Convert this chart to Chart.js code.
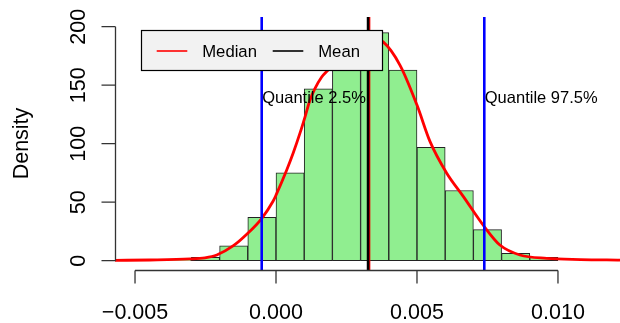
<!DOCTYPE html>
<html>
<head>
<meta charset="utf-8">
<script src="https://cdn.jsdelivr.net/npm/chart.js@4/dist/chart.umd.min.js"></script>
<style>
  html, body { margin:0; padding:0; background:#fff; }
  #wrap { width:620px; height:323px; }
</style>
</head>
<body>
<div id="wrap"><canvas id="c" width="620" height="323"></canvas></div>
<script>
// ---- data ----
// histogram: bins of width 0.001, density per bin
const binWidth   = 0.001;
const binStart   = [-0.004, -0.003, -0.002, -0.001, 0.000, 0.001, 0.002, 0.003, 0.004, 0.005, 0.006, 0.007, 0.008, 0.009];
const binDensity = [0.5, 2.9, 12.8, 37, 75, 147, 175, 195, 163, 97, 60, 26.5, 6.3, 2.9];

// kernel density curve (red)
const kdeX = [-0.00571, -0.00447, -0.00305, -0.00252, -0.0021, -0.00151, -0.0010, -0.00051, -0.0001, 0.0,
              0.00038, 0.00061, 0.00085, 0.00103, 0.0012, 0.00138, 0.00162, 0.00185, 0.0024, 0.0030,
              0.0034, 0.0038, 0.0044, 0.0050, 0.00546, 0.00605, 0.00664, 0.00739, 0.00794, 0.00865,
              0.0096, 0.0108, 0.0122];
const kdeY = [0.3, 0.6, 1.5, 2.5, 4.9, 12.8, 23.4, 36, 51, 56,
              77.5, 92, 109, 123, 137, 147, 157, 163, 176, 187,
              190, 187, 167, 133, 102, 75, 55, 29, 13.4, 4.9,
              2, 1, 0.5];

// reference lines
const quantiles      = [-0.000507, 0.007387];
const quantileLabels = ['Quantile 2.5%', 'Quantile 97.5%'];
const quantileLabelY = 140;
const medianVal = 0.0033;
const meanVal   = 0.003265;

// axes
const xTicks      = [-0.005, 0, 0.005, 0.010];
const xTickLabels = ['\u22120.005', '0.000', '0.005', '0.010'];
const yTicks      = [0, 50, 100, 150, 200];
const xLim = [-0.00571, 0.0122];
const yLim = [-7.95, 208.3];

const legendItems = [
  { text:'Median', color:'#ff0000' },
  { text:'Mean',   color:'#000000' }
];

const FONT = '"Liberation Sans", Arial, Helvetica, sans-serif';

// vertical line as a two-point line dataset
function vline(xv, color, order){
  return {
    type:'line', data:[{x:xv, y:yLim[0]}, {x:xv, y:yLim[1]}],
    borderColor:color, borderWidth:2.6, pointRadius:0, order
  };
}

// R-like axes, texts and legend
const rDecor = {
  id:'rDecor',
  afterDatasetsDraw(chart){
    const { ctx, scales:{x, y} } = chart;
    ctx.save();
    // quantile labels
    ctx.fillStyle = '#000';
    ctx.font = '16.5px ' + FONT;
    ctx.textAlign = 'left';
    ctx.textBaseline = 'alphabetic';
    quantiles.forEach((q, i) => {
      ctx.fillText(quantileLabels[i], x.getPixelForValue(q) + 0.5, y.getPixelForValue(quantileLabelY) + 5.9);
    });

    // legend box
    const L = { x:141.5, y:30.5, w:241, h:40 };
    ctx.fillStyle = '#f2f2f2';
    ctx.fillRect(L.x, L.y, L.w, L.h);
    ctx.strokeStyle = '#000'; ctx.lineWidth = 1.2;
    ctx.strokeRect(L.x, L.y, L.w, L.h);
    const slots = [156.7, 272.7];
    legendItems.forEach((it, i) => {
      const sx = slots[i], cy = 51;
      ctx.strokeStyle = it.color; ctx.lineWidth = 1.6;
      ctx.beginPath(); ctx.moveTo(sx, cy); ctx.lineTo(sx + 30.6, cy); ctx.stroke();
      ctx.fillStyle = '#000';
      ctx.font = '16.7px ' + FONT;
      ctx.fillText(it.text, sx + 45.5, 57);
    });
    ctx.restore();
  },
  afterDraw(chart){
    const { ctx, scales:{x, y}, chartArea:a } = chart;
    ctx.save();
    ctx.strokeStyle = '#333'; ctx.lineWidth = 1.3; ctx.fillStyle = '#000';
    // x axis
    const xb = a.bottom + 0.5;
    ctx.beginPath();
    ctx.moveTo(x.getPixelForValue(xTicks[0]), xb);
    ctx.lineTo(x.getPixelForValue(xTicks[xTicks.length - 1]), xb);
    xTicks.forEach(v => { const p = x.getPixelForValue(v); ctx.moveTo(p, xb); ctx.lineTo(p, xb + 13); });
    // y axis
    const yl = a.left + 0.5;
    ctx.moveTo(yl, y.getPixelForValue(yTicks[0]));
    ctx.lineTo(yl, y.getPixelForValue(yTicks[yTicks.length - 1]));
    yTicks.forEach(v => { const p = y.getPixelForValue(v); ctx.moveTo(yl, p); ctx.lineTo(yl - 14, p); });
    ctx.stroke();

    ctx.font = '21.5px ' + FONT;
    ctx.textAlign = 'center';
    ctx.textBaseline = 'alphabetic';
    xTicks.forEach((v, i) => ctx.fillText(xTickLabels[i], x.getPixelForValue(v), 319));
    yTicks.forEach(v => {
      ctx.save();
      ctx.translate(84.5, y.getPixelForValue(v));
      ctx.rotate(-Math.PI / 2);
      ctx.fillText(String(v), 0, 0);
      ctx.restore();
    });
    // axis title
    ctx.save();
    ctx.translate(27.5, 143.5);
    ctx.rotate(-Math.PI / 2);
    ctx.fillText('Density', 0, 0);
    ctx.restore();
    ctx.restore();
  }
};

new Chart(document.getElementById('c'), {
  type:'bar',
  data:{
    datasets:[
      {
        type:'line', label:'Quantiles', data:[{x:quantiles[0], y:yLim[0]}, {x:quantiles[0], y:yLim[1]}],
        borderColor:'#0000ff', borderWidth:2.6, pointRadius:0, order:1
      },
      vline(quantiles[1], '#0000ff', 1),
      vline(meanVal, '#000000', 2),
      vline(medianVal, '#ff0000', 3),
      {
        type:'line', label:'Density',
        data:kdeX.map((v, i) => ({x:v, y:kdeY[i]})),
        borderColor:'#ff0000', borderWidth:2.8, pointRadius:0,
        cubicInterpolationMode:'monotone', order:4
      },
      {
        type:'bar', label:'Histogram',
        data:binStart.map((s, i) => ({x:s + binWidth / 2, y:binDensity[i]})),
        backgroundColor:'#90ee90', borderColor:'#222', borderWidth:1,
        borderSkipped:false, categoryPercentage:1, barPercentage:1, order:5
      }
    ]
  },
  options:{
    responsive:false, animation:false, devicePixelRatio:1,
    layout:{ padding:{ left:115, right:0, top:17, bottom:53 } },
    plugins:{ legend:{ display:false }, tooltip:{ enabled:false } },
    scales:{
      x:{ type:'linear', offset:false, min:xLim[0], max:xLim[1], display:false,
          afterBuildTicks:s => { s.ticks = xTicks.map(v => ({ value:v })); } },
      y:{ type:'linear', min:yLim[0], max:yLim[1], display:false }
    }
  },
  plugins:[rDecor]
});
</script>
</body>
</html>
